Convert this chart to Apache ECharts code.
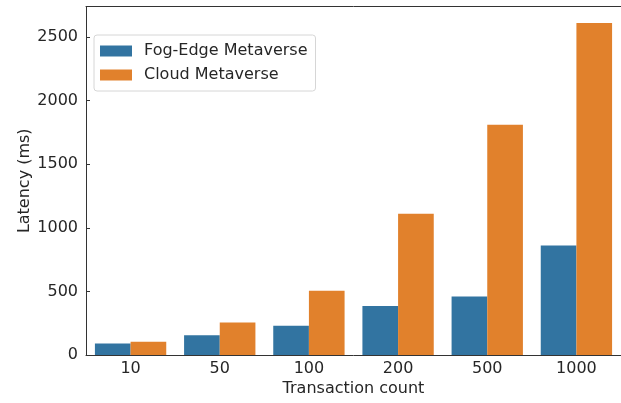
<!DOCTYPE html>
<html>
<head>
<meta charset="utf-8">
<script src="https://cdn.jsdelivr.net/npm/echarts@6/dist/echarts.min.js"></script>
<style>
  html, body { margin: 0; padding: 0; background: #fff; }
  #chart { width: 621px; height: 403px; }
</style>
</head>
<body>
<div id="chart"></div>
<script>
// data
const categories = ['10', '50', '100', '200', '500', '1000'];
const fogEdge = [90, 155, 230, 385, 460, 860];
const cloud = [105, 255, 505, 1110, 1810, 2610];
const seriesNames = ['Fog-Edge Metaverse', 'Cloud Metaverse'];

const font = 'DejaVu Sans';
const textColor = '#262626';
const fs = 16;

const chart = echarts.init(document.getElementById('chart'));
chart.setOption({
  animation: false,
  textStyle: { fontFamily: font },
  grid: { left: 86, right: -2, top: 6.5, bottom: 48 },
  legend: {
    left: 94, top: 35,
    orient: 'vertical',
    data: seriesNames,
    itemWidth: 32, itemHeight: 11, itemGap: 8,
    padding: [8, 8, 8, 6],
    borderColor: '#d6d6d6', borderWidth: 1, borderRadius: 3,
    icon: 'rect',
    textStyle: { fontFamily: font, fontSize: fs, color: textColor, lineHeight: 14, padding: [0, 0, 0, 7] }
  },
  xAxis: [
    {
      type: 'category',
      data: categories,
      name: 'Transaction count',
      nameLocation: 'middle',
      nameGap: 26,
      nameMoveOverlap: false,
      nameTextStyle: { fontFamily: font, fontSize: fs, color: textColor },
      axisLine: { lineStyle: { color: '#333', width: 1 } },
      axisTick: { inside: true, alignWithLabel: true, length: 4, lineStyle: { color: '#333' } },
      axisLabel: { fontFamily: font, fontSize: fs, color: textColor, margin: 6 }
    },
    {
      // top spine only
      type: 'category',
      data: categories,
      position: 'top',
      axisLine: { lineStyle: { color: '#333', width: 1 } },
      axisTick: { show: false },
      axisLabel: { show: false }
    }
  ],
  yAxis: {
    type: 'value',
    min: 0, max: 2740, interval: 500,
    name: 'Latency (ms)',
    nameLocation: 'middle',
    nameGap: 53,
    nameMoveOverlap: false,
    nameTextStyle: { fontFamily: font, fontSize: fs, color: textColor },
    axisLine: { show: true, lineStyle: { color: '#333', width: 1 } },
    axisTick: { show: true, inside: true, length: 4, lineStyle: { color: '#333' } },
    axisLabel: {
      fontFamily: font, fontSize: fs, color: textColor, margin: 8, showMaxLabel: false,
      formatter: (v) => String(v)
    },
    splitLine: { show: false }
  },
  series: [
    {
      name: seriesNames[0], type: 'bar', data: fogEdge,
      itemStyle: { color: '#3274a1' },
      barGap: '0%', barCategoryGap: '20%'
    },
    {
      name: seriesNames[1], type: 'bar', data: cloud,
      itemStyle: { color: '#e1812c' },
      barGap: '0%', barCategoryGap: '20%'
    }
  ]
});
</script>
</body>
</html>
